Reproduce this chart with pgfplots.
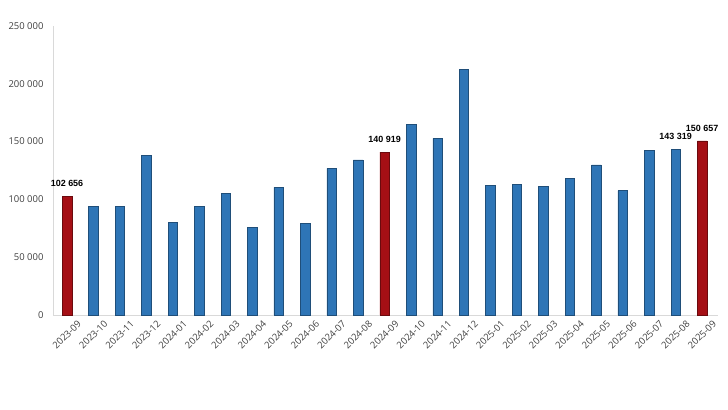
\documentclass[border=0pt]{standalone}
\usepackage{pgfplots}
\pgfplotsset{compat=1.18}
\usepackage{fontspec}
\setmainfont{Open Sans}
\newfontfamily\arialf{Liberation Sans}
\definecolor{barblue}{HTML}{2E75B6}
\definecolor{barblueedge}{HTML}{1F4E79}
\definecolor{barred}{HTML}{A50F15}
\definecolor{barrededge}{HTML}{6B0A0E}
\definecolor{ticktext}{HTML}{404040}
\definecolor{axisgray}{HTML}{D9D9D9}
\begin{document}
\begin{tikzpicture}[x=1bp,y=1bp]
\path (-53bp,-95bp) rectangle (675bp,315bp);
\begin{axis}[
  at={(14.03bp,0)}, anchor=origin,
  scale only axis,
  width=665bp, height=289bp,
  xmin=-0.53, xmax=24.6,
  ymin=0, ymax=250000,
  scaled y ticks=false,
  axis x line*=bottom,
  axis y line*=left,
  axis line style={axisgray, line width=0.8pt},
  x axis line style={-}, y axis line style={-},
  xtick={0,...,24},
  xticklabels={2023-09,2023-10,2023-11,2023-12,2024-01,2024-02,2024-03,2024-04,2024-05,2024-06,2024-07,2024-08,2024-09,2024-10,2024-11,2024-12,2025-01,2025-02,2025-03,2025-04,2025-05,2025-06,2025-07,2025-08,2025-09},
  ytick={0,50000,100000,150000,200000,250000},
  yticklabels={0,50 000,100 000,150 000,200 000,250 000},
  major tick length=0pt,
  x tick label style={rotate=45, anchor=north east, font=\fontsize{9.5}{11}\selectfont, text=ticktext, inner sep=1pt, yshift=-9bp, xshift=5bp},
  y tick label style={font=\fontsize{9.5}{11}\selectfont, text=ticktext, xshift=-6bp},
  ybar, bar width=9.5bp, bar shift=0pt,
  nodes near coords style={font=\arialf\bfseries\fontsize{9}{10}\selectfont, text=black, yshift=6bp},
  clip=false,
]
\addplot[fill=barblue, draw=barblueedge, line width=0.5pt] coordinates {
 (1,93700) (2,93700) (3,138400) (4,80200) (5,93700) (6,105300) (7,75500)
 (8,110400) (9,79300) (10,126900) (11,134100)
 (13,165200) (14,152800) (15,212500) (16,112200) (17,112700) (18,111000)
 (19,118200) (20,129800) (21,107600) (22,142700)
};
\addplot[fill=barblue, draw=barblueedge, line width=0.5pt,
  nodes near coords, point meta=explicit symbolic] table[meta=lab] {
x y lab
23 143319 {143 319}
};
\addplot[fill=barred, draw=barrededge, line width=0.5pt,
  nodes near coords, point meta=explicit symbolic] table[meta=lab] {
x y lab
0 102656 {102 656}
12 140919 {140 919}
24 150657 {150 657}
};
\end{axis}
\end{tikzpicture}
\end{document}
